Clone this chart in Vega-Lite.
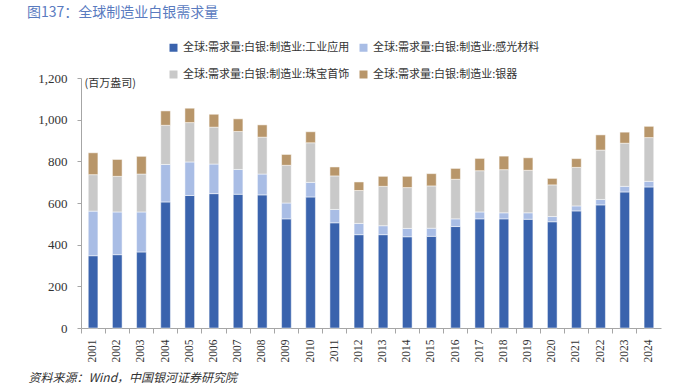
{
"$schema": "https://vega.github.io/schema/vega-lite/v6.json",
"width": 580,
"height": 250,
"autosize": {"type": "none"},
"padding": {"left": 81, "top": 78, "right": 25, "bottom": 57},
"background": "white",
"config": {"view": {"stroke": null}, "font": "Liberation Serif"},
"title": {"text": "图137：全球制造业白银需求量", "anchor": "start", "frame": "group", "dx": -54, "offset": 22, "font": "Noto Sans CJK SC", "fontSize": 14, "fontWeight": "normal", "color": "#5a7bbf"},
"data": {"values": [
{"y":"2001","s":"工业应用","o":1,"v":347},{"y":"2001","s":"感光材料","o":2,"v":214},{"y":"2001","s":"珠宝首饰","o":3,"v":175},{"y":"2001","s":"银器","o":4,"v":105},
{"y":"2002","s":"工业应用","o":1,"v":352},{"y":"2002","s":"感光材料","o":2,"v":205},{"y":"2002","s":"珠宝首饰","o":3,"v":171},{"y":"2002","s":"银器","o":4,"v":81},
{"y":"2003","s":"工业应用","o":1,"v":365},{"y":"2003","s":"感光材料","o":2,"v":192},{"y":"2003","s":"珠宝首饰","o":3,"v":182},{"y":"2003","s":"银器","o":4,"v":85},
{"y":"2004","s":"工业应用","o":1,"v":605},{"y":"2004","s":"感光材料","o":2,"v":180},{"y":"2004","s":"珠宝首饰","o":3,"v":188},{"y":"2004","s":"银器","o":4,"v":69},
{"y":"2005","s":"工业应用","o":1,"v":636},{"y":"2005","s":"感光材料","o":2,"v":161},{"y":"2005","s":"珠宝首饰","o":3,"v":189},{"y":"2005","s":"银器","o":4,"v":69},
{"y":"2006","s":"工业应用","o":1,"v":645},{"y":"2006","s":"感光材料","o":2,"v":142},{"y":"2006","s":"珠宝首饰","o":3,"v":177},{"y":"2006","s":"银器","o":4,"v":62},
{"y":"2007","s":"工业应用","o":1,"v":642},{"y":"2007","s":"感光材料","o":2,"v":119},{"y":"2007","s":"珠宝首饰","o":3,"v":182},{"y":"2007","s":"银器","o":4,"v":61},
{"y":"2008","s":"工业应用","o":1,"v":639},{"y":"2008","s":"感光材料","o":2,"v":100},{"y":"2008","s":"珠宝首饰","o":3,"v":177},{"y":"2008","s":"银器","o":4,"v":59},
{"y":"2009","s":"工业应用","o":1,"v":524},{"y":"2009","s":"感光材料","o":2,"v":76},{"y":"2009","s":"珠宝首饰","o":3,"v":181},{"y":"2009","s":"银器","o":4,"v":52},
{"y":"2010","s":"工业应用","o":1,"v":629},{"y":"2010","s":"感光材料","o":2,"v":70},{"y":"2010","s":"珠宝首饰","o":3,"v":190},{"y":"2010","s":"银器","o":4,"v":53},
{"y":"2011","s":"工业应用","o":1,"v":505},{"y":"2011","s":"感光材料","o":2,"v":64},{"y":"2011","s":"珠宝首饰","o":3,"v":161},{"y":"2011","s":"银器","o":4,"v":43},
{"y":"2012","s":"工业应用","o":1,"v":448},{"y":"2012","s":"感光材料","o":2,"v":54},{"y":"2012","s":"珠宝首饰","o":3,"v":158},{"y":"2012","s":"银器","o":4,"v":41},
{"y":"2013","s":"工业应用","o":1,"v":448},{"y":"2013","s":"感光材料","o":2,"v":43},{"y":"2013","s":"珠宝首饰","o":3,"v":189},{"y":"2013","s":"银器","o":4,"v":48},
{"y":"2014","s":"工业应用","o":1,"v":438},{"y":"2014","s":"感光材料","o":2,"v":40},{"y":"2014","s":"珠宝首饰","o":3,"v":196},{"y":"2014","s":"银器","o":4,"v":54},
{"y":"2015","s":"工业应用","o":1,"v":440},{"y":"2015","s":"感光材料","o":2,"v":39},{"y":"2015","s":"珠宝首饰","o":3,"v":203},{"y":"2015","s":"银器","o":4,"v":59},
{"y":"2016","s":"工业应用","o":1,"v":487},{"y":"2016","s":"感光材料","o":2,"v":37},{"y":"2016","s":"珠宝首饰","o":3,"v":190},{"y":"2016","s":"银器","o":4,"v":52},
{"y":"2017","s":"工业应用","o":1,"v":524},{"y":"2017","s":"感光材料","o":2,"v":33},{"y":"2017","s":"珠宝首饰","o":3,"v":198},{"y":"2017","s":"银器","o":4,"v":59},
{"y":"2018","s":"工业应用","o":1,"v":524},{"y":"2018","s":"感光材料","o":2,"v":29},{"y":"2018","s":"珠宝首饰","o":3,"v":207},{"y":"2018","s":"银器","o":4,"v":65},
{"y":"2019","s":"工业应用","o":1,"v":522},{"y":"2019","s":"感光材料","o":2,"v":31},{"y":"2019","s":"珠宝首饰","o":3,"v":204},{"y":"2019","s":"银器","o":4,"v":60},
{"y":"2020","s":"工业应用","o":1,"v":510},{"y":"2020","s":"感光材料","o":2,"v":25},{"y":"2020","s":"珠宝首饰","o":3,"v":152},{"y":"2020","s":"银器","o":4,"v":31},
{"y":"2021","s":"工业应用","o":1,"v":562},{"y":"2021","s":"感光材料","o":2,"v":24},{"y":"2021","s":"珠宝首饰","o":3,"v":185},{"y":"2021","s":"银器","o":4,"v":42},
{"y":"2022","s":"工业应用","o":1,"v":591},{"y":"2022","s":"感光材料","o":2,"v":26},{"y":"2022","s":"珠宝首饰","o":3,"v":237},{"y":"2022","s":"银器","o":4,"v":73},
{"y":"2023","s":"工业应用","o":1,"v":653},{"y":"2023","s":"感光材料","o":2,"v":27},{"y":"2023","s":"珠宝首饰","o":3,"v":207},{"y":"2023","s":"银器","o":4,"v":53},
{"y":"2024","s":"工业应用","o":1,"v":677},{"y":"2024","s":"感光材料","o":2,"v":27},{"y":"2024","s":"珠宝首饰","o":3,"v":210},{"y":"2024","s":"银器","o":4,"v":54}
]},
"mark": {"type": "bar", "width": {"band": 0.4}, "stroke": "#ffffff", "strokeWidth": 0.5},
"encoding": {
"x": {"field": "y", "type": "ordinal", "title": "资料来源：Wind，中国银河证券研究院",
  "scale": {"paddingInner": 0, "paddingOuter": 0},
  "axis": {"labelAngle": -90, "bandPosition": 0, "tickSize": 5, "labelPadding": 6, "labelFontSize": 11.5, "labelColor": "#333333", "domainColor": "#a6a6a6", "tickColor": "#a6a6a6",
    "titleX": -53, "titleY": 49, "titleAlign": "left", "titleBaseline": "middle", "titleAnchor": "start", "titleFont": "Noto Sans CJK SC", "titleFontSize": 12, "titleFontWeight": "normal", "titleFontStyle": "italic", "titleColor": "#333333"}},
"y": {"field": "v", "type": "quantitative", "stack": "zero",
  "scale": {"domain": [0, 1200]},
  "axis": {"values": [0, 200, 400, 600, 800, 1000, 1200], "format": ",d", "grid": false, "tickSize": 4, "labelPadding": 10, "labelFontSize": 13, "labelColor": "#333333", "domainColor": "#a6a6a6", "tickColor": "#a6a6a6",
    "title": "(百万盎司)", "titleAngle": 0, "titleX": 3, "titleY": 5, "titleAlign": "left", "titleBaseline": "middle", "titleFont": "Noto Sans CJK SC", "titleFontSize": 11, "titleFontWeight": "normal", "titleColor": "#333333"}},
"color": {"field": "s", "type": "nominal",
  "scale": {"domain": ["工业应用", "感光材料", "珠宝首饰", "银器"], "range": ["#3a63ad", "#a9bde5", "#c9c9c9", "#b8966a"]},
  "legend": {"orient": "none", "legendX": 87, "legendY": -36, "columns": 2, "direction": "horizontal", "title": null, "symbolType": "square", "symbolSize": 64, "symbolStrokeWidth": 0, "labelFont": "Noto Sans CJK SC", "labelFontSize": 11, "labelColor": "#333333", "labelLimit": 400, "rowPadding": 15, "columnPadding": 8, "labelExpr": "'全球:需求量:白银:制造业:' + datum.label"}},
"order": {"field": "o", "type": "quantitative", "sort": "ascending"}
}
}
